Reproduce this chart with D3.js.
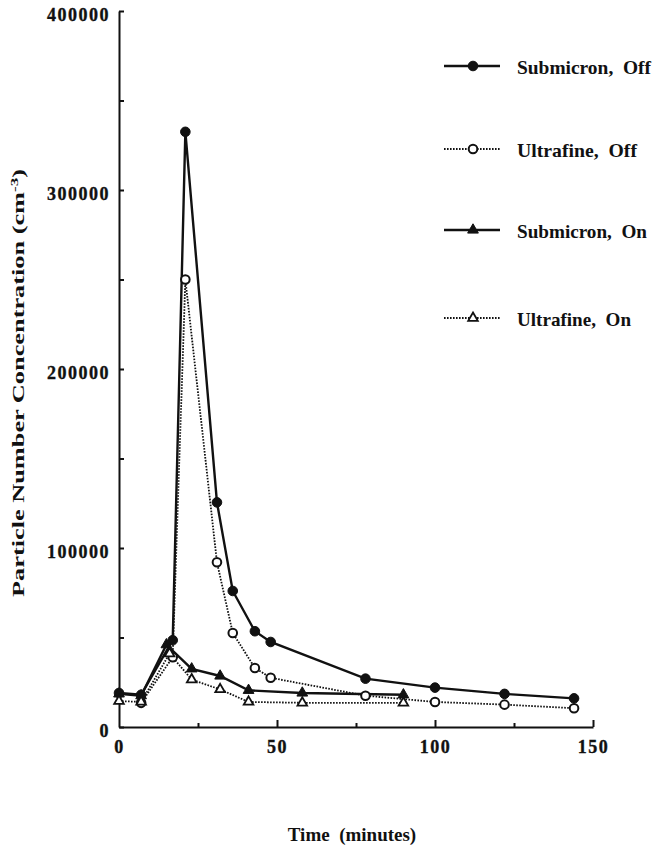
<!DOCTYPE html>
<html>
<head>
<meta charset="utf-8">
<script src="https://cdn.jsdelivr.net/npm/d3@7"></script>
<style>
body { margin: 0; background: #fff; }
svg text { font-family: "Liberation Serif", "Times New Roman", serif; font-weight: bold; fill: #111; }
.axis path, .axis line { stroke: #111; stroke-width: 2; }
</style>
</head>
<body>
<div id="chart"></div>
<script>
// values
var subOffTime = [0, 7, 17, 21, 31, 36, 43, 48, 78, 100, 122, 144];
var subOffConc = [19000, 18000, 48500, 332500, 125500, 76000, 53500, 47500, 27000, 22000, 18500, 16000];
var ufOffTime = [7, 17, 21, 31, 36, 43, 48, 78, 100, 122, 144];
var ufOffConc = [13500, 39000, 250000, 92000, 52500, 33000, 27500, 17500, 14000, 12500, 10500];
var subOnTime = [0, 7, 15, 23, 32, 41, 58, 90];
var subOnConc = [18500, 17500, 46000, 32500, 28500, 20500, 19000, 18000];
var ufOnTime = [0, 7, 16, 23, 32, 41, 58, 90];
var ufOnConc = [14500, 14000, 41000, 26500, 21000, 14000, 13500, 13500];
var seriesNames = ["Submicron,  Off", "Ultrafine,  Off", "Submicron,  On", "Ultrafine,  On"];
var xTicks = [0, 50, 100, 150];
var xMinor = [25, 75, 125];
var yTicks = [0, 100000, 200000, 300000, 400000];
var yMinor = [50000, 150000, 250000, 350000];

var width = 652, height = 847;

var svg = d3.select("#chart").append("svg")
    .attr("width", width)
    .attr("height", height);

var x = d3.scaleLinear().domain([0, 150]).range([119, 593]);
var y = d3.scaleLinear().domain([0, 400000]).range([727, 11]);

function zip(t, v) { return t.map((d, i) => ({t: d, v: v[i]})); }

var series = [
    {name: seriesNames[0], data: zip(subOffTime, subOffConc), dotted: false, shape: "circle", fill: true, w: 134},
    {name: seriesNames[1], data: zip(ufOffTime, ufOffConc), dotted: true, shape: "circle", fill: false, w: 120},
    {name: seriesNames[2], data: zip(subOnTime, subOnConc), dotted: false, shape: "triangle", fill: true, w: 130},
    {name: seriesNames[3], data: zip(ufOnTime, ufOnConc), dotted: true, shape: "triangle", fill: false, w: 114}
];

// x axis: ticks point up into the plot
svg.append("g")
    .attr("class", "axis")
    .attr("transform", "translate(0," + y(0) + ")")
    .call(d3.axisBottom(x).tickValues([50, 100, 150]).tickSize(-7).tickSizeOuter(0).tickFormat(""));
svg.append("g")
    .attr("class", "axis")
    .attr("transform", "translate(0," + y(0) + ")")
    .call(d3.axisBottom(x).tickValues(xMinor).tickSize(-4).tickSizeOuter(0).tickFormat(""))
    .select(".domain").remove();
var xl = svg.append("g")
    .attr("transform", "translate(0," + y(0) + ")")
    .call(d3.axisBottom(x).tickValues(xTicks).tickSize(0).tickPadding(13));
xl.select(".domain").remove();
xl.selectAll("text")
    .style("font-size", "18px")
    .style("letter-spacing", "1.5px")
    .style("stroke", "#111").style("stroke-width", 0.35);

// y axis: ticks point right
svg.append("g")
    .attr("class", "axis")
    .attr("transform", "translate(" + x(0) + ",0)")
    .call(d3.axisLeft(y).tickValues(yTicks.concat(yMinor)).tickSize(-5).tickSizeOuter(0).tickFormat(""));
var yl = svg.append("g")
    .attr("transform", "translate(" + x(0) + ",0)")
    .call(d3.axisLeft(y).tickValues(yTicks).tickSize(0).tickPadding(9).tickFormat(d3.format("d")));
yl.select(".domain").remove();
yl.selectAll("text")
    .attr("dy", "0.55em")
    .style("font-size", "18px")
    .style("letter-spacing", "1.5px")
    .style("stroke", "#111").style("stroke-width", 0.35);

// axis titles
svg.append("text")
    .attr("x", 352)
    .attr("y", 841)
    .attr("text-anchor", "middle")
    .style("font-size", "19px")
    .style("white-space", "pre")
    .text("Time  (minutes)");

var yt = svg.append("text")
    .attr("transform", "translate(24,383) rotate(-90)")
    .attr("text-anchor", "middle")
    .attr("textLength", 428)
    .attr("lengthAdjust", "spacingAndGlyphs")
    .style("font-size", "17px");
yt.append("tspan").text("Particle Number Concentration (cm");
yt.append("tspan").attr("dy", -6).style("font-size", "11px").text("-3");
yt.append("tspan").attr("dy", 6).text(")");

// lines
var line = d3.line()
    .x(d => x(d.t))
    .y(d => y(d.v));

series.forEach(function(s) {
    svg.append("path")
        .datum(s.data)
        .attr("d", line)
        .style("fill", "none")
        .style("stroke", "#111")
        .style("stroke-width", s.dotted ? 1.8 : 2.4)
        .style("stroke-dasharray", s.dotted ? "1.6,1.4" : null);
});

function drawMarker(g, s, cx, cy) {
    if (s.shape === "circle") {
        g.append("circle")
            .attr("cx", cx).attr("cy", cy)
            .attr("r", s.fill ? 4.8 : 4.3)
            .style("fill", s.fill ? "#111" : "#fff")
            .style("stroke", "#111")
            .style("stroke-width", s.fill ? 1 : 2);
    } else {
        g.append("path")
            .attr("d", d3.symbol().type(d3.symbolTriangle).size(s.fill ? 50 : 40)())
            .attr("transform", "translate(" + cx + "," + cy + ")")
            .style("fill", s.fill ? "#111" : "#fff")
            .style("stroke", "#111")
            .style("stroke-width", s.fill ? 1 : 1.8);
    }
}

series.forEach(function(s) {
    var g = svg.append("g");
    s.data.forEach(d => drawMarker(g, s, x(d.t), y(d.v)));
});

// legend
var legendY = [66, 149, 230, 318];
series.forEach(function(s, i) {
    var g = svg.append("g");
    g.append("line")
        .attr("x1", 444).attr("x2", 500)
        .attr("y1", legendY[i]).attr("y2", legendY[i])
        .style("stroke", "#111")
        .style("stroke-width", s.dotted ? 1.8 : 2.4)
        .style("stroke-dasharray", s.dotted ? "1.6,1.4" : null);
    drawMarker(g, s, 473, legendY[i]);
    g.append("text")
        .attr("x", 517)
        .attr("y", legendY[i] + 8)
        .attr("textLength", s.w)
        .attr("lengthAdjust", "spacingAndGlyphs")
        .style("font-size", "19px")
        .style("white-space", "pre")
        .text(s.name);
});
</script>
</body>
</html>
